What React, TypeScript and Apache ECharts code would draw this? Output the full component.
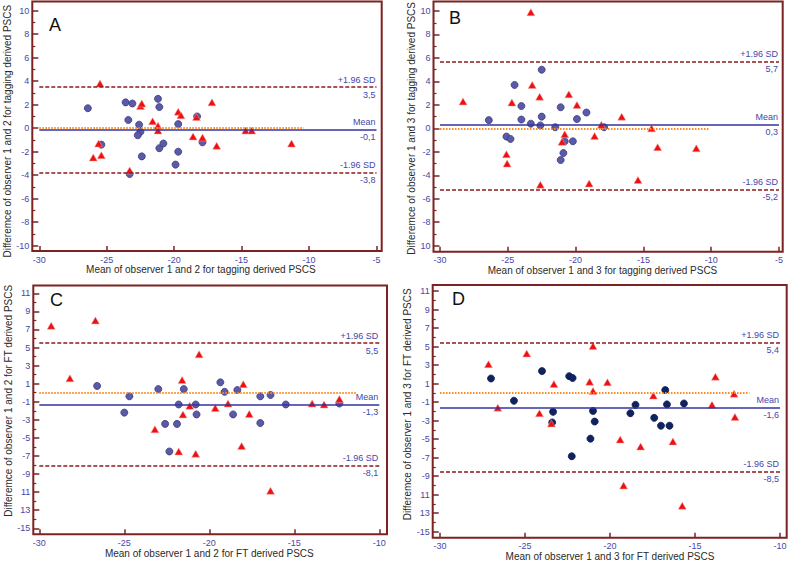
import React, { useEffect, useRef } from "react";
import * as echarts from "echarts";

// ---------- Data ----------
// Panel A: observer 1 vs 2, tagging
const aCircles: number[][] = [
  [-26.4, 1.7], [-23.6, 2.2], [-23.1, 2.1], [-23.4, 0.7], [-22.6, 0.3], [-22.5, -0.3],
  [-22.7, -0.6], [-25.4, -1.4], [-22.4, -2.4], [-23.3, -3.9], [-21.2, 2.5], [-21.1, 1.8],
  [-21.1, -1.7], [-20.8, -1.3], [-19.7, 0.35], [-19.7, -2.0], [-19.9, -3.1], [-18.3, 1.0],
  [-17.9, -1.2],
];
const aTriangles: number[][] = [
  [-25.5, 3.8], [-25.6, -1.3], [-26.0, -2.5], [-25.4, -2.3], [-23.3, -3.6], [-22.5, 1.9],
  [-22.4, 2.1], [-21.6, 0.6], [-21.2, 0.2], [-21.2, -0.2], [-19.7, 1.4], [-19.5, 1.1],
  [-18.35, 0.95], [-18.6, -0.7], [-17.9, -0.8], [-17.2, 2.2], [-16.85, -1.5], [-14.7, -0.2],
  [-14.25, -0.2], [-11.3, -1.3],
];
const aLimits = [3.5, -0.1, -3.8];
const aLimitText = ["3,5", "-0,1", "-3,8"];
const aZeroEnd = -10.4;

// Panel B: observer 1 vs 3, tagging
const bCircles: number[][] = [
  [-26.4, 0.7], [-24.5, 3.7], [-24.0, 1.9], [-24.0, 0.75], [-23.3, 0.4], [-22.5, 5.0],
  [-22.5, 1.0], [-22.6, 0.25], [-25.1, -0.7], [-24.8, -0.9], [-21.5, 0.1], [-21.1, 1.8],
  [-20.9, -2.1], [-21.1, -2.7], [-20.2, -1.1], [-19.9, 0.8], [-19.2, 1.35], [-17.9, 0.1],
  [-20.8, -1.1],
];
const bTriangles: number[][] = [
  [-23.3, 9.9], [-28.3, 2.3], [-24.7, 2.2], [-23.2, 3.7], [-22.65, 2.7], [-20.5, 2.9],
  [-19.9, 2.0], [-25.1, -2.2], [-25.05, -3.0], [-22.6, -4.8], [-20.8, -0.5], [-21.0, -1.15],
  [-18.6, -0.65], [-19.0, -4.7], [-18.1, 0.3], [-16.6, 1.0], [-15.4, -4.4], [-14.4, 0.0],
  [-13.95, -1.6], [-11.1, -1.7],
];
const bLimits = [5.7, 0.3, -5.2];
const bLimitText = ["5,7", "0,3", "-5,2"];
const bZeroEnd = -10.1;

// Panel C: observer 1 vs 2, FT
const cCircles: number[][] = [
  [-26.6, 0.75], [-25.0, -2.2], [-24.7, -0.4], [-23.0, 0.4], [-22.6, -3.45], [-22.35, -6.5],
  [-21.9, -3.45], [-21.8, -1.3], [-21.5, 0.4], [-20.8, -1.3], [-20.75, -2.4], [-19.35, 1.15],
  [-19.1, 0.1], [-18.6, -2.4], [-18.35, 0.3], [-17.0, -0.4], [-17.0, -3.35], [-16.4, -0.25],
  [-15.5, -1.3], [-12.35, -1.2],
];
const cTriangles: number[][] = [
  [-29.3, 7.4], [-26.7, 8.0], [-28.2, 1.6], [-20.6, 4.25], [-21.6, 1.4], [-21.15, -1.45],
  [-21.55, -2.4], [-23.2, -4.05], [-21.8, -6.5], [-20.8, -6.75], [-19.65, -1.7], [-18.9, -1.2],
  [-18.0, 0.95], [-18.1, -5.9], [-17.65, -2.35], [-16.4, -10.85], [-13.95, -1.2], [-13.25, -1.3],
  [-12.35, -0.7],
];
const cLimits = [5.5, -1.3, -8.1];
const cLimitText = ["5,5", "-1,3", "-8,1"];
const cZeroEnd = -11.3;

// Panel D: observer 1 vs 3, FT
const dCircles: number[][] = [
  [-27.0, 1.55], [-25.65, -0.85], [-24.0, 2.35], [-23.35, -2.05], [-23.4, -3.2], [-22.4, 1.8],
  [-22.2, 1.6], [-22.25, -6.85], [-21.0, -1.95], [-20.9, -3.1], [-21.15, -4.95], [-18.8, -2.2],
  [-18.5, -1.3], [-17.4, -2.7], [-17.0, -3.55], [-16.75, 0.3], [-16.65, -1.25], [-16.5, -3.55],
  [-15.65, -1.15],
];
const dTriangles: number[][] = [
  [-27.15, 3.1], [-26.6, -1.6], [-24.9, 4.25], [-24.15, -2.2], [-23.45, -3.3], [-23.3, 0.95],
  [-21.0, 5.05], [-21.2, 1.2], [-21.0, 0.2], [-20.15, 1.15], [-19.4, -5.05], [-19.2, -10.0],
  [-18.2, -5.8], [-17.45, -0.3], [-16.3, -5.25], [-15.75, -12.2], [-14.0, -1.3], [-13.8, 1.75],
  [-12.7, -0.1], [-12.65, -2.6],
];
const dLimits = [5.4, -1.6, -8.5];
const dLimitText = ["5,4", "-1,6", "-8,5"];
const dZeroEnd = -11.8;

// Tick labels
const yTicksAB = [-10, -8, -6, -4, -2, 0, 2, 4, 6, 8, 10];
const yLabelsA = ["-10", "-8", "-6", "-4", "-2", "0", "2", "4", "6", "8", "10"];
const yLabelsB = ["10", "-8", "-6", "-4", "-2", "0", "2", "4", "6", "8", "10"];
const yTicksCD = [-15, -13, -11, -9, -7, -5, -3, -1, 1, 3, 5, 7, 9, 11];
const yLabelsCD = ["-15", "13", "11", "-9", "-7", "-5", "-3", "-1", "1", "3", "5", "7", "9", "11"];
const limitNames = ["+1.96 SD", "Mean", "-1.96 SD"];

const xNames = [
  "Mean of observer 1 and 2 for tagging derived PSCS",
  "Mean of observer 1 and 3 for tagging derived PSCS",
  "Mean of observer 1 and 2 for FT derived PSCS",
  "Mean of observer 1 and 3 for FT derived PSCS",
];
const yNames = [
  "Differemce of observer 1 and 2 for tagging derived PSCS",
  "Differemce of observer 1 and 3 for tagging derived PSCS",
  "Differemce of observer 1 and 2 for FT derived PSCS",
  "Differemce of observer 1 and 3 for FT derived PSCS",
];

// ---------- Styles / layout ----------
const FONT = "'Liberation Sans', Arial, sans-serif";
const MAROON = "#7d2222";
const DASH_RED = "#8e1b1b";
const BLUE_TXT = "#4646a8";
const MEAN_BLUE = "#3535a0";
const ORANGE = "#ff8a1c";

const panels = [
  {
    letter: "A", circles: aCircles, triangles: aTriangles, limits: aLimits, limitText: aLimitText,
    zeroEnd: aZeroEnd, xMax: -5, yMin: -10, yMax: 10, yTicks: yTicksAB, yLabels: yLabelsA,
    grid: { left: 39.3, top: 10.7, width: 337.2, height: 235 },
    frame: { x: 32.3, y: 1.5, w: 349.4, h: 249.5 }, yOff: 7, xOff: 5.3,
    circleFill: "#5a5aa8", circleBorder: "#3a3a7c", letterPos: [49, 16],
    yNameGap: 19, xNameGap: 10, xNameShift: 14, yNameShift: -6,
  },
  {
    letter: "B", circles: bCircles, triangles: bTriangles, limits: bLimits, limitText: bLimitText,
    zeroEnd: bZeroEnd, xMax: -5, yMin: -10, yMax: 10, yTicks: yTicksAB, yLabels: yLabelsB,
    grid: { left: 440, top: 10.7, width: 339, height: 235 },
    frame: { x: 433.5, y: 1.5, w: 349.2, h: 250.2 }, yOff: 6.5, xOff: 6,
    circleFill: "#5a5aa8", circleBorder: "#3a3a7c", letterPos: [449, 9],
    yNameGap: 17, xNameGap: 9, xNameShift: 14, yNameShift: 0,
  },
  {
    letter: "C", circles: cCircles, triangles: cTriangles, limits: cLimits, limitText: cLimitText,
    zeroEnd: cZeroEnd, xMax: -10, yMin: -15, yMax: 11, yTicks: yTicksCD, yLabels: yLabelsCD,
    grid: { left: 39.3, top: 293.3, width: 340, height: 235 },
    frame: { x: 33.3, y: 285.5, w: 353.7, h: 248.8 }, yOff: 6, xOff: 6,
    circleFill: "#5a5aa8", circleBorder: "#3a3a7c", letterPos: [50, 291],
    yNameGap: 16, xNameGap: 13, xNameShift: 0, yNameShift: 20,
  },
  {
    letter: "D", circles: dCircles, triangles: dTriangles, limits: dLimits, limitText: dLimitText,
    zeroEnd: dZeroEnd, xMax: -10, yMin: -15, yMax: 11, yTicks: yTicksCD, yLabels: yLabelsCD,
    grid: { left: 440, top: 291, width: 340, height: 240.7 },
    frame: { x: 432.7, y: 285, w: 354, h: 252.7 }, yOff: 7.3, xOff: 6,
    circleFill: "#0f2362", circleBorder: "#0a1a4a", letterPos: [452, 290],
    yNameGap: 15, xNameGap: 13, xNameShift: 0, yNameShift: 14,
  },
];

function buildOption() {
  const grids: any[] = [];
  const xAxes: any[] = [];
  const yAxes: any[] = [];
  const series: any[] = [];
  const graphics: any[] = [];

  panels.forEach((p, i) => {
    grids.push({ ...p.grid, containLabel: false });
    xAxes.push({
      gridIndex: i, type: "value", min: -30, max: p.xMax, interval: 5, offset: p.xOff, position: "bottom",
      axisLine: { show: false, onZero: false },
      axisTick: { show: true, inside: true, length: 5, lineStyle: { color: MAROON, width: 1.5 } },
      axisLabel: { color: BLUE_TXT, fontSize: 9, margin: 4, fontFamily: FONT, showMinLabel: true, showMaxLabel: true },
      splitLine: { show: false },
      name: xNames[i], nameLocation: "middle", nameGap: p.xNameGap,
      nameTextStyle: { color: "#2a2a2a", fontSize: 10, fontFamily: FONT, padding: [0, p.xNameShift, 0, 0] },
    });
    const labs = p.yLabels;
    const ticks = p.yTicks;
    yAxes.push({
      gridIndex: i, type: "value", min: p.yMin, max: p.yMax, interval: 2, offset: p.yOff, position: "left",
      axisLine: { show: false, onZero: false },
      axisTick: { show: true, inside: true, length: 6, lineStyle: { color: MAROON, width: 1.5 } },
      minorTick: { show: true, splitNumber: 2, length: 3, lineStyle: { color: MAROON, width: 1.2 } },
      minorSplitLine: { show: false },
      axisLabel: {
        color: BLUE_TXT, fontSize: 9, margin: 3, fontFamily: FONT, showMinLabel: true, showMaxLabel: true,
        formatter: (v: number) => {
          const k = ticks.findIndex((t) => Math.abs(t - v) < 1e-6);
          return k >= 0 ? labs[k] : "";
        },
      },
      splitLine: { show: false },
      name: yNames[i], nameLocation: "middle", nameGap: p.yNameGap, nameRotate: 90,
      nameTextStyle: { color: "#2a2a2a", fontSize: 10, fontFamily: FONT, padding: [0, 0, 0, p.yNameShift] },
    });

    const lineStyles = [
      { color: DASH_RED, width: 1.6, type: [4, 2] },
      { color: MEAN_BLUE, width: 1.5, type: "solid" },
      { color: DASH_RED, width: 1.6, type: [4, 2] },
    ];
    const lblBase = { show: true, color: BLUE_TXT, fontSize: 9, fontFamily: FONT };
    const mlData: any[] = [];
    // zero line (orange dotted)
    mlData.push([
      { coord: [-30, 0], lineStyle: { color: ORANGE, width: 2, type: [1.5, 1.5] }, label: { show: false } },
      { coord: [p.zeroEnd, 0] },
    ]);
    p.limits.forEach((v, k) => {
      mlData.push([
        { coord: [-30, v], lineStyle: lineStyles[k], label: { ...lblBase, position: "insideEndTop", formatter: limitNames[k], distance: [1, 3] } },
        { coord: [p.xMax, v] },
      ]);
      mlData.push([
        { coord: [-30, v], lineStyle: { color: "rgba(255,255,255,0)", width: 1, type: "solid" }, label: { ...lblBase, position: "insideEndBottom", formatter: p.limitText[k], distance: [1, 3] } },
        { coord: [p.xMax, v] },
      ]);
    });
    series.push({
      type: "line", xAxisIndex: i, yAxisIndex: i, data: [], z: 1, silent: true,
      markLine: { symbol: ["none", "none"], silent: true, animation: false, data: mlData },
    });
    series.push({
      type: "scatter", xAxisIndex: i, yAxisIndex: i, data: p.circles, z: 3, symbol: "circle", symbolSize: 7,
      itemStyle: { color: p.circleFill, borderColor: p.circleBorder, borderWidth: 0.8, opacity: 1 },
    });
    series.push({
      type: "scatter", xAxisIndex: i, yAxisIndex: i, data: p.triangles, z: 4, symbol: "triangle", symbolSize: [8, 7],
      itemStyle: { color: "#ee1010", borderColor: "#f7a0a0", borderWidth: 0.5, opacity: 1 },
    });

    graphics.push({
      type: "rect", z: 10, silent: true,
      shape: { x: p.frame.x, y: p.frame.y, width: p.frame.w, height: p.frame.h },
      style: { fill: "none", stroke: MAROON, lineWidth: 2 },
    });
    graphics.push({
      type: "text", z: 10, left: p.letterPos[0], top: p.letterPos[1],
      style: { text: p.letter, fontSize: 18, fontFamily: FONT, fill: "#111" },
    });
  });

  return {
    animation: false,
    backgroundColor: "#ffffff",
    grid: grids,
    xAxis: xAxes,
    yAxis: yAxes,
    series,
    graphic: graphics,
  };
}

export default function App() {
  const ref = useRef<HTMLDivElement>(null);
  useEffect(() => {
    if (!ref.current) return;
    const chart = echarts.init(ref.current, null, { renderer: "svg" });
    chart.setOption(buildOption() as any);
    return () => chart.dispose();
  }, []);
  return (
    <div
      ref={ref}
      style={{ position: "fixed", left: 0, top: 0, width: 790, height: 564, background: "#fff" }}
    />
  );
}
